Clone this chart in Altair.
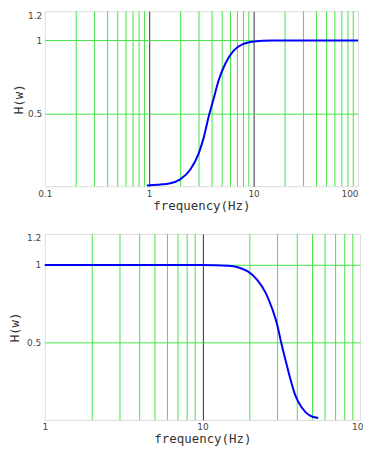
import altair as alt
import pandas as pd

# High-pass response (top panel)
hp_freq = [0.95, 1.2, 1.59, 1.98, 2.47, 2.98, 3.33, 3.72, 4.14, 4.62, 5.35, 6.44, 8.03, 10, 15, 30, 100]
hp_gain = [0.005, 0.01, 0.02, 0.047, 0.113, 0.225, 0.335, 0.48, 0.60, 0.725, 0.84, 0.93, 0.977, 0.993, 1.0, 1.0, 1.0]

# Low-pass response (bottom panel)
lp_freq = [1, 5, 10, 14.6, 19.4, 22.4, 25.2, 27.8, 29.9, 31.6, 33.6, 36.1, 38.8, 42.7, 48.1, 54.3]
lp_gain = [1, 1, 1, 0.995, 0.958, 0.90, 0.82, 0.714, 0.61, 0.50, 0.39, 0.266, 0.16, 0.08, 0.027, 0.012]

top_decades = [0.1, 1, 10, 100]
top_minor = [0.2, 0.3, 0.4, 0.5, 0.6, 0.7, 0.8, 0.9,
             2, 3, 4, 5, 6, 7, 8, 9,
             20, 30, 40, 50, 60, 70, 80, 90]
bot_decades = [1, 10, 100]
bot_minor = [2, 3, 4, 5, 6, 7, 8, 9, 20, 30, 40, 50, 60, 70, 80, 90]
y_ticks = [0.5, 1, 1.2]

GREEN = "#44e444"
DARK = "#333333"
FRAME = "#8a8a8a"
LABEL_FONT = "DejaVu Sans"
TITLE_FONT = "DejaVu Sans Mono"


def panel(freq, gain, decades, minor, w, h, ylabel_pad, ytitle_x, last_right):
    lo, hi = decades[0], decades[-1]
    xscale = alt.Scale(type="log", domain=[lo, hi], nice=False)
    yscale = alt.Scale(domain=[0, 1.2], nice=False, zero=False)
    xaxis_kw = dict(
        values=decades, format="~g", title="frequency(Hz)", ticks=False, tickSize=0,
        domain=False, labelFlush=False, labelPadding=3, titlePadding=1,
        gridColor=DARK, gridWidth=1,
        gridOpacity={"condition": {"test": f"datum.value <= {lo * 1.01} || datum.value >= {hi * 0.99}", "value": 0}, "value": 1},
        labelFont=LABEL_FONT, labelFontSize=9, labelColor="#444",
        titleFont=TITLE_FONT, titleFontSize=12.5, titleFontWeight="normal", titleColor="#333",
    )
    if last_right:
        xaxis_kw["labelAlign"] = {"condition": {"test": f"datum.value >= {hi * 0.99}", "value": "right"}, "value": "center"}
    xaxis = alt.Axis(**xaxis_kw)
    yaxis = alt.Axis(
        values=y_ticks, format=".2~f", title="H(w)", ticks=False, tickSize=0,
        domain=False, labelFlush=True, labelPadding=ylabel_pad, titleX=ytitle_x,
        gridColor=GREEN, gridWidth=1,
        gridOpacity={"condition": {"test": "datum.value >= 1.19", "value": 0}, "value": 1},
        labelFont=LABEL_FONT, labelFontSize=9, labelColor="#444",
        titleFont=TITLE_FONT, titleFontSize=12.5, titleFontWeight="normal", titleColor="#333",
    )
    curve_df = pd.DataFrame({"f": freq, "H": gain})
    minor_df = pd.DataFrame({"f": minor})
    rules = alt.Chart(minor_df).mark_rule(color=GREEN, strokeWidth=1).encode(
        x=alt.X("f:Q", scale=xscale, axis=xaxis)
    )
    line = alt.Chart(curve_df).mark_line(color="#0000ff", strokeWidth=2, interpolate="monotone").encode(
        x=alt.X("f:Q", scale=xscale, axis=xaxis),
        y=alt.Y("H:Q", scale=yscale, axis=yaxis),
    )
    # invisible helper that only fixes the panel's left/top bounds for placement
    sp = alt.Chart(alt.Data(values=[{"a": 1}])).mark_rule(strokeOpacity=0, opacity=0, strokeWidth=0.01).encode(
        x=alt.value(-44), y=alt.value(-1), y2=alt.value(1)
    )
    return alt.layer(rules, line, sp).properties(width=w, height=h)


top = panel(hp_freq, hp_gain, top_decades, top_minor, 315, 176, 3, -19, True)
bottom = panel(lp_freq, lp_gain, bot_decades, bot_minor, 317, 187, 4, -23.5, False)

chart = alt.vconcat(top, bottom, spacing=20).configure_view(
    stroke=FRAME, strokeWidth=1.5
).configure(background="white").properties(
    padding={"left": -8, "top": 0, "right": -7, "bottom": 0}
)

chart.save("out.html", embed_options={"renderer": "svg", "actions": False})
